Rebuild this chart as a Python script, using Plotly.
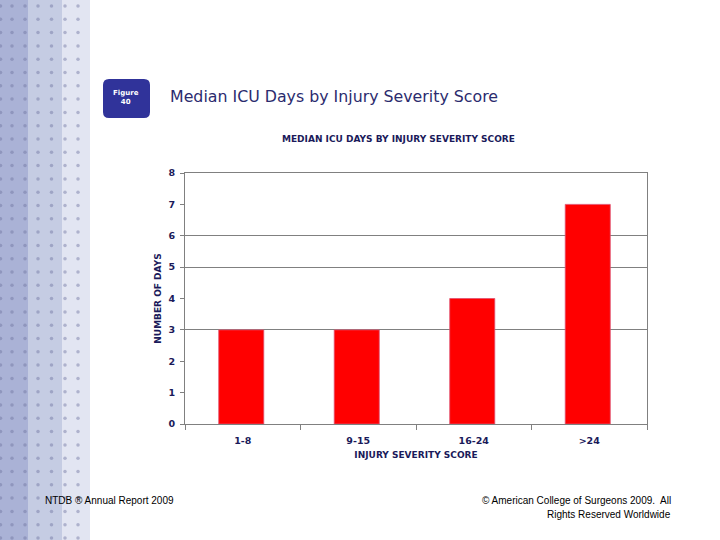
import plotly.graph_objects as go
import numpy as np

# ---- data ----
categories = ["1-8", "9-15", "16-24", ">24"]
median_icu_days = [3, 3, 4, 7]
y_tick_values = [0, 1, 2, 3, 4, 5, 6, 7, 8]
grid_levels = [3, 5, 6, 8]

W, H = 720, 540
NAVY = "#1a1a5a"

def px_x(x):
    return x / W

def px_y(y):
    return 1 - y / H

fig = go.Figure()

# bars
fig.add_trace(go.Bar(
    x=categories, y=median_icu_days,
    marker=dict(color="#ff0000", line=dict(color="#e05070", width=0.8)),
    width=0.39, offset=-0.208, showlegend=False, hoverinfo="x+y",
    xaxis="x", yaxis="y",
))

# decorative dots in left strip (hidden axes in pixel units)
cols = [0.5, 12, 25, 38, 51.5, 65, 78]
rows = np.arange(6, 545, 13.3)
dx, dy = np.meshgrid(cols, rows)
fig.add_trace(go.Scatter(
    x=dx.ravel(), y=dy.ravel(), mode="markers",
    marker=dict(size=3.5, color="rgba(110,115,160,0.45)", symbol="circle"),
    xaxis="x3", yaxis="y3", showlegend=False, hoverinfo="skip",
))

shapes = []
# strip bands
for x0, x1, c in [(0, 28, "#aab2d6"), (28, 62, "#c5cce3"), (62, 90, "#e2e5f2")]:
    shapes.append(dict(type="rect", xref="paper", yref="paper",
                       x0=px_x(x0), x1=px_x(x1), y0=0, y1=1,
                       fillcolor=c, line=dict(width=0), layer="below"))

# rounded "Figure" box
bx0, bx1, by0, by1, r = 103, 150, 79, 118, 6
path = (f"M {bx0+r},{by0} L {bx1-r},{by0} Q {bx1},{by0} {bx1},{by0+r} "
        f"L {bx1},{by1-r} Q {bx1},{by1} {bx1-r},{by1} L {bx0+r},{by1} "
        f"Q {bx0},{by1} {bx0},{by1-r} L {bx0},{by0+r} Q {bx0},{by0} {bx0+r},{by0} Z")
shapes.append(dict(type="path", xref="x3", yref="y3", path=path,
                   fillcolor="#30339a", line=dict(width=0), layer="above"))

annotations = [
    dict(text="<b>Figure<br>40</b>", x=px_x(126.5), y=px_y(98), xref="paper", yref="paper",
         showarrow=False, font=dict(family="DejaVu Sans", size=7, color="white"),
         xanchor="center", yanchor="middle"),
    dict(text="Median ICU Days by Injury Severity Score", x=px_x(168), y=px_y(97),
         xref="paper", yref="paper", showarrow=False, xanchor="left", yanchor="middle",
         font=dict(family="DejaVu Sans", size=15.8, color="#2b2b6e")),
    dict(text="<b>MEDIAN ICU DAYS BY INJURY SEVERITY SCORE</b>", x=px_x(398), y=px_y(139),
         xref="paper", yref="paper", showarrow=False, xanchor="center", yanchor="middle",
         font=dict(family="DejaVu Sans", size=9, color=NAVY)),
    dict(text="NTDB ® Annual Report 2009", x=px_x(43), y=px_y(500),
         xref="paper", yref="paper", showarrow=False, xanchor="left", yanchor="middle",
         font=dict(family="Liberation Sans", size=10, color="black")),
    dict(text="© American College of Surgeons 2009.  All", x=px_x(673), y=px_y(500),
         xref="paper", yref="paper", showarrow=False, xanchor="right", yanchor="middle",
         font=dict(family="Liberation Sans", size=10, color="black")),
    dict(text="Rights Reserved Worldwide", x=px_x(673), y=px_y(514),
         xref="paper", yref="paper", showarrow=False, xanchor="right", yanchor="middle",
         font=dict(family="Liberation Sans", size=10, color="black")),
]

tickfont = dict(family="DejaVu Sans", size=9.5, color=NAVY)
fig.update_layout(
    width=W, height=H, margin=dict(l=0, r=0, t=0, b=0, autoexpand=False),
    paper_bgcolor="white", plot_bgcolor="rgba(0,0,0,0)",
    shapes=shapes, annotations=annotations,
    xaxis=dict(domain=[px_x(185), px_x(647)], type="category",
               showline=True, linecolor="#808080", linewidth=1, mirror=True,
               ticks="outside", tickson="boundaries", ticklen=5, tickcolor="#808080",
               tickfont=tickfont, showgrid=False, ticklabelstandoff=8,
               tickvals=categories, ticktext=[f"<b>{c}</b>" for c in categories],
               title=dict(text="<b>INJURY SEVERITY SCORE</b>", standoff=6,
                          font=dict(family="DejaVu Sans", size=9, color=NAVY))),
    yaxis=dict(domain=[px_y(424), px_y(173)], range=[0, 8],
               tickvals=y_tick_values, ticktext=[f"<b>{v}</b>" for v in y_tick_values],
               showline=True, linecolor="#808080", linewidth=1, mirror=True,
               ticks="outside", ticklen=4, tickcolor="#808080",
               tickfont=tickfont, showgrid=False, zeroline=False, ticklabelstandoff=3,
               title=dict(text="<b>NUMBER OF DAYS</b>", standoff=5,
                          font=dict(family="DejaVu Sans", size=9, color=NAVY))),
    yaxis2=dict(overlaying="y", range=[0, 8], tickvals=grid_levels,
                showticklabels=False, showgrid=True, gridcolor="#808080",
                gridwidth=1, zeroline=False, ticks=""),
    xaxis3=dict(domain=[0, 1], range=[0, W], visible=False, fixedrange=True),
    yaxis3=dict(domain=[0, 1], range=[H, 0], visible=False, fixedrange=True),
)
# invisible trace to activate yaxis2
fig.add_trace(go.Scatter(x=[categories[0]], y=[0], yaxis="y2", xaxis="x",
                         mode="markers", marker=dict(opacity=0), showlegend=False,
                         hoverinfo="skip"))

fig.write_html("out.html")
